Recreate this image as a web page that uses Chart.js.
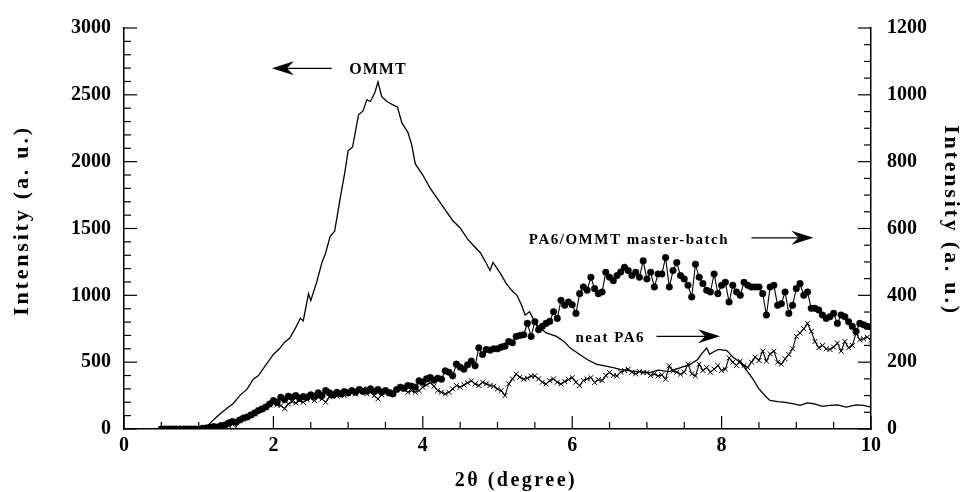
<!DOCTYPE html>
<html>
<head>
<meta charset="utf-8">
<script src="https://cdn.jsdelivr.net/npm/chart.js@4.4.1/dist/chart.umd.min.js"></script>
<style>
  html, body { margin: 0; padding: 0; background: #fff; }
  #wrap { width: 962px; height: 492px; position: relative; }
</style>
</head>
<body>
<div id="wrap"><canvas id="xrd"></canvas></div>
<script>
// XRD patterns: OMMT on the left axis, PA6 samples on the right axis
const TWO_THETA_START = 0.5;
const TWO_THETA_STEP = 0.05;

// PA6/OMMT master-batch, right axis, one value per 0.05 deg from 0.5 to 10
const masterBatch = [
  0, 0, 0, 0, 0, 0, 0, 0, 0, 0,
  0, 2, 3, 5, 7, 6, 10, 12, 18, 22,
  20, 27, 33, 36, 42, 48, 55, 60, 66, 75,
  85, 80, 95, 88, 98, 95, 100, 92, 97, 95,
  102, 98, 108, 100, 115, 108, 102, 110, 105, 112,
  108, 115, 110, 118, 112, 115, 120, 112, 118, 110,
  115, 108, 105, 118, 125, 122, 130, 128, 125, 144,
  140, 150, 154, 146, 152, 149, 174, 170, 159, 194,
  185, 179, 192, 203, 189, 243, 223, 238, 236, 240,
  240, 245, 248, 262, 258, 277, 280, 282, 316, 277,
  321, 297, 307, 316, 322, 351, 331, 385, 370, 380,
  372, 346, 405, 425, 415, 454, 420, 405, 410, 469,
  454, 444, 459, 470, 484, 474, 459, 469, 454, 503,
  449, 469, 425, 464, 464, 513, 425, 474, 498, 459,
  449, 430, 395, 493, 454, 435, 415, 410, 464, 405,
  430, 439, 380, 430, 410, 400, 439, 430, 425, 425,
  425, 405, 341, 425, 430, 370, 375, 410, 346, 370,
  420, 435, 400, 410, 361, 361, 356, 341, 331, 336,
  346, 316, 341, 336, 321, 307, 292, 316, 312, 307,
  305
];

// neat PA6, right axis, same sampling
const neatPA6 = [
  0, 0, 0, 0, 0, 0, 0, 0, 0, 0,
  0, 0, 2, 3, 5, 5, 6, 7, 10, 14,
  20, 27, 30, 35, 42, 45, 56, 60, 66, 72,
  76, 72, 70, 61, 75, 82, 78, 85, 80, 88,
  92, 85, 95, 90, 80, 96, 100, 98, 105, 100,
  108, 112, 105, 115, 120, 105, 110, 100, 90, 102,
  110, 105, 112, 118, 125, 118, 110, 115, 110, 115,
  125, 132, 139, 128, 115, 110, 105, 110, 120, 130,
  125, 132, 138, 144, 135, 130, 140, 135, 130, 128,
  120, 115, 100, 135, 150, 164, 155, 149, 152, 158,
  159, 150, 140, 135, 145, 150, 140, 135, 142, 148,
  154, 140, 130, 145, 150, 154, 139, 148, 145, 160,
  169, 160, 159, 170, 175, 179, 170, 165, 172, 169,
  169, 160, 165, 159, 162, 149, 189, 174, 170, 164,
  170, 194, 165, 159, 194, 175, 184, 170, 179, 190,
  175, 179, 213, 200, 190, 203, 190, 184, 200, 215,
  205, 233, 203, 225, 233, 200, 194, 210, 223, 240,
  277, 287, 300, 316, 292, 262, 243, 250, 240, 238,
  245, 257, 233, 262, 243, 250, 287, 267, 270, 275,
  265
];

// OMMT, left axis
const ommtAngle = [
  0.5, 0.6, 0.7, 0.8, 0.9, 1.0, 1.05, 1.1, 1.15, 1.2, 1.3, 1.4, 1.46, 1.55, 1.65,
  1.73, 1.8, 1.9, 2.0, 2.08, 2.15, 2.22, 2.3, 2.36, 2.4, 2.47, 2.5, 2.58, 2.65, 2.7,
  2.76, 2.82, 2.89, 2.96, 3.0, 3.06, 3.14, 3.2, 3.25, 3.3, 3.36, 3.4, 3.45, 3.52, 3.6,
  3.66, 3.72, 3.8, 3.85, 3.9, 4.0, 4.1, 4.2, 4.3, 4.4, 4.5, 4.6, 4.7, 4.77, 4.85,
  4.9, 4.94, 5.03, 5.12, 5.2, 5.26, 5.32, 5.37, 5.43, 5.5, 5.57, 5.66, 5.79, 5.9, 5.97,
  6.1, 6.2, 6.33, 6.45, 6.55, 6.65, 6.77, 6.9, 7.04, 7.15, 7.3, 7.45, 7.58, 7.68, 7.73,
  7.8, 7.84, 7.9, 7.96, 8.07, 8.16, 8.22, 8.29, 8.36, 8.42, 8.5, 8.6, 8.65, 8.75, 8.83,
  8.95, 9.05, 9.15, 9.23, 9.35, 9.45, 9.55, 9.67, 9.8, 9.9, 10.0
];
const ommtIntensity = [
  0, 0, 0, 0, 0, 3, 5, 15, 42, 70, 120, 165, 189, 250, 300,
  373, 400, 480, 558, 600, 650, 680, 760, 828, 810, 1012, 960, 1100, 1246, 1319,
  1442, 1480, 1712, 1933, 2081, 2110, 2351, 2380, 2462, 2450, 2520, 2597, 2486, 2450, 2425,
  2410, 2290, 2220, 2130, 1983, 1900, 1800, 1720, 1640, 1560, 1504, 1420, 1360, 1319, 1240,
  1186, 1246, 1172, 1086, 1030, 1000, 930, 853, 877, 800, 754, 717, 693, 650, 607,
  558, 520, 484, 470, 459, 445, 435, 430, 422, 440, 430, 460, 484, 520, 560,
  607, 558, 580, 595, 587, 533, 510, 472, 420, 373, 300, 238, 214, 205, 201,
  190, 177, 195, 189, 170, 177, 180, 164, 180, 177, 164
];

// labels placed in data units (x in degrees, y on the left axis)
const notes = [
  { text: "OMMT", x: 3.4, y: 2690, from: 2.78, to: 1.98, ay: 2698, size: 16, spacing: 1 },
  { text: "PA6/OMMT master-batch", x: 6.76, y: 1410, from: 8.4, to: 9.23, ay: 1430, size: 15, spacing: 1.5 },
  { text: "neat PA6", x: 6.51, y: 680, from: 7.13, to: 7.98, ay: 693, size: 15, spacing: 1.5 }
];

const SERIF = '"Liberation Serif", "Times New Roman", serif';

const toPoints = (vals) => vals.map((v, i) => ({ x: +(TWO_THETA_START + i * TWO_THETA_STEP).toFixed(2), y: v }));
const ommtPoints = ommtAngle.map((a, i) => ({ x: a, y: ommtIntensity[i] }));

// inward tick marks, minor and major
const tickMarks = {
  id: "tickMarks",
  afterDraw(chart) {
    const { ctx, chartArea } = chart;
    const specs = [
      { id: "x", minor: 0.5, major: 2 },
      { id: "y", minor: 100, major: 500 },
      { id: "y1", minor: 50, major: 200 }
    ];
    ctx.save();
    ctx.strokeStyle = "#000";
    ctx.lineWidth = 1.2;
    for (const s of specs) {
      const sc = chart.scales[s.id];
      const n = Math.round((sc.max - sc.min) / s.minor);
      for (let i = 0; i <= n; i++) {
        const v = sc.min + i * s.minor;
        const isMajor = Math.abs(v / s.major - Math.round(v / s.major)) < 1e-6;
        const len = isMajor ? 13 : 7;
        const p = sc.getPixelForValue(v);
        ctx.beginPath();
        if (s.id === "x") {
          ctx.moveTo(p, chartArea.bottom);
          ctx.lineTo(p, chartArea.bottom - len);
        } else if (s.id === "y") {
          ctx.moveTo(chartArea.left, p);
          ctx.lineTo(chartArea.left + len, p);
        } else {
          ctx.moveTo(chartArea.right, p);
          ctx.lineTo(chartArea.right - len, p);
        }
        ctx.stroke();
      }
    }
    ctx.restore();
  }
};

// axis titles and the arrow labels (letter-spaced, so drawn here)
const textLayer = {
  id: "textLayer",
  afterDraw(chart) {
    const { ctx } = chart;
    const xs = chart.scales.x, ys = chart.scales.y;
    ctx.save();
    ctx.fillStyle = "#000";
    ctx.textAlign = "center";
    ctx.textBaseline = "middle";

    ctx.font = `bold 20px ${SERIF}`;
    ctx.letterSpacing = "2.5px";
    ctx.fillText("2θ (degree)", 516, 481);

    ctx.font = `bold 22px ${SERIF}`;
    ctx.letterSpacing = "2.8px";
    const midY = (ys.top + ys.bottom) / 2;
    ctx.save();
    ctx.translate(22, midY - 8);
    ctx.rotate(-Math.PI / 2);
    ctx.fillText("Intensity (a. u.)", 0, 0);
    ctx.restore();
    ctx.save();
    ctx.translate(951, midY - 8);
    ctx.rotate(Math.PI / 2);
    ctx.fillText("Intensity (a. u.)", 0, 0);
    ctx.restore();

    ctx.strokeStyle = "#000";
    ctx.lineWidth = 1.2;
    for (const n of notes) {
      ctx.font = `bold ${n.size}px ${SERIF}`;
      ctx.letterSpacing = `${n.spacing}px`;
      ctx.fillText(n.text, xs.getPixelForValue(n.x), ys.getPixelForValue(n.y));

      const x0 = xs.getPixelForValue(n.from);
      const x1 = xs.getPixelForValue(n.to);
      const ay = ys.getPixelForValue(n.ay);
      const dir = Math.sign(x1 - x0);
      ctx.beginPath();
      ctx.moveTo(x0, ay);
      ctx.lineTo(x1 - dir * 10, ay);
      ctx.stroke();
      ctx.beginPath();
      ctx.moveTo(x1, ay);
      ctx.lineTo(x1 - dir * 22, ay - 7);
      ctx.lineTo(x1 - dir * 15, ay);
      ctx.lineTo(x1 - dir * 22, ay + 7);
      ctx.closePath();
      ctx.fill();
    }
    ctx.restore();
  }
};

const tickFont = { family: SERIF, size: 20, weight: "bold" };
const axisBorder = { display: true, color: "#000", width: 1.5 };
const plainNumber = (v) => String(v);

new Chart(document.getElementById("xrd"), {
  type: "line",
  data: {
    datasets: [
      {
        label: "OMMT",
        data: ommtPoints,
        yAxisID: "y",
        borderColor: "#000",
        borderWidth: 1.3,
        pointRadius: 0,
        tension: 0
      },
      {
        label: "neat PA6",
        data: toPoints(neatPA6),
        yAxisID: "y1",
        borderColor: "#000",
        borderWidth: 1.1,
        pointStyle: "crossRot",
        pointRadius: 3.5,
        pointBorderWidth: 1,
        pointBorderColor: "#000",
        tension: 0
      },
      {
        label: "PA6/OMMT master-batch",
        data: toPoints(masterBatch),
        yAxisID: "y1",
        borderColor: "#000",
        borderWidth: 1.1,
        pointStyle: "circle",
        pointRadius: 3.3,
        pointBackgroundColor: "#000",
        pointBorderColor: "#000",
        pointBorderWidth: 0.5,
        tension: 0
      }
    ]
  },
  options: {
    responsive: true,
    maintainAspectRatio: false,
    animation: false,
    layout: { padding: { top: 22, left: 0, right: 0, bottom: 0 } },
    plugins: {
      legend: { display: false },
      tooltip: { enabled: false }
    },
    scales: {
      x: {
        type: "linear",
        min: 0,
        max: 10,
        grid: { display: false, drawTicks: false },
        border: axisBorder,
        ticks: { stepSize: 2, color: "#000", font: tickFont, padding: 5, maxRotation: 0, callback: plainNumber },
        afterFit: (s) => { s.height = 63; }
      },
      y: {
        position: "left",
        min: 0,
        max: 3000,
        grid: { display: false, drawTicks: false },
        border: axisBorder,
        ticks: { stepSize: 500, color: "#000", font: tickFont, padding: 13, callback: plainNumber },
        afterFit: (s) => { s.width = 124; }
      },
      y1: {
        position: "right",
        min: 0,
        max: 1200,
        grid: { display: false, drawTicks: false },
        border: axisBorder,
        ticks: { stepSize: 200, color: "#000", font: tickFont, padding: 16, callback: plainNumber },
        afterFit: (s) => { s.width = 91; }
      }
    }
  },
  plugins: [tickMarks, textLayer]
});
</script>
</body>
</html>
